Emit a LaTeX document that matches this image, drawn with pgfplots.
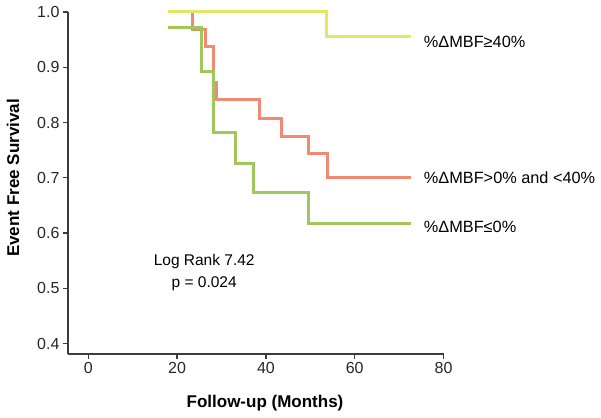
\documentclass[border=0pt]{standalone}
\usepackage{fontspec}
\setmainfont{Liberation Sans}
\usepackage{pgfplots}
\pgfplotsset{compat=1.18}
\definecolor{cyel}{RGB}{226,232,100}
\definecolor{cred}{RGB}{242,138,115}
\definecolor{cgrn}{RGB}{160,198,92}
\definecolor{caxis}{RGB}{60,60,60}
\begin{document}
\begin{tikzpicture}
\path[use as bounding box] (0pt,0pt) rectangle (601pt,-417pt);
\begin{axis}[
  at={(68pt,-354pt)}, anchor=south west,
  scale only axis, width=375.5pt, height=342pt,
  xmin=-4.57, xmax=80, ymin=0.381, ymax=1.0,
  axis x line*=bottom, axis y line*=left,
  axis line style={line width=1.2pt, color=caxis},
  every tick/.style={line width=1.2pt, color=caxis},
  tick align=outside, major tick length=5pt,
  xtick={0,20,40,60,80},
  ytick={0.4,0.5,0.6,0.7,0.8,0.9,1.0},
  yticklabel style={/pgf/number format/.cd, fixed, fixed zerofill, precision=1},
  /pgf/number format/assume math mode=true,
  tick label style={font=\fontsize{16}{19}\selectfont, color=black!85},
  clip=false,
]
\addplot[cred, line width=3pt, const plot] coordinates {
 (18,1.0) (23.4,0.968) (26.4,0.937) (28.3,0.873) (28.9,0.841) (38.6,0.808) (43.5,0.775) (49.6,0.743) (53.9,0.701) (72.7,0.701)};
\addplot[cgrn, line width=3pt, const plot] coordinates {
 (18,0.972) (25.5,0.893) (28.2,0.781) (33.1,0.725) (37.2,0.674) (49.6,0.617) (72.7,0.617)};
\addplot[cyel, line width=3pt, const plot] coordinates {
 (18,1.0) (53.7,0.955) (72.7,0.955)};
\node[anchor=west, font=\fontsize{16.3}{19}\selectfont] at (axis cs:74.8,0.946) {\%ΔMBF≥40\%};
\node[anchor=west, font=\fontsize{16.3}{19}\selectfont] at (axis cs:74.8,0.700) {\%ΔMBF>0\% and <40\%};
\node[anchor=west, font=\fontsize{16.3}{19}\selectfont] at (axis cs:74.8,0.611) {\%ΔMBF≤0\%};
\node[font=\fontsize{15.5}{18}\selectfont] at (axis cs:26.1,0.548) {Log Rank 7.42};
\node[font=\fontsize{15.5}{18}\selectfont] at (axis cs:26.1,0.508) {p = 0.024};
\end{axis}
\node[font=\bfseries\fontsize{17}{20}\selectfont] at (265pt,-402.7pt) {Follow-up (Months)};
\node[rotate=90, font=\bfseries\fontsize{17}{20}\selectfont] at (13pt,-178pt) {Event Free Survival};
\end{tikzpicture}
\end{document}
